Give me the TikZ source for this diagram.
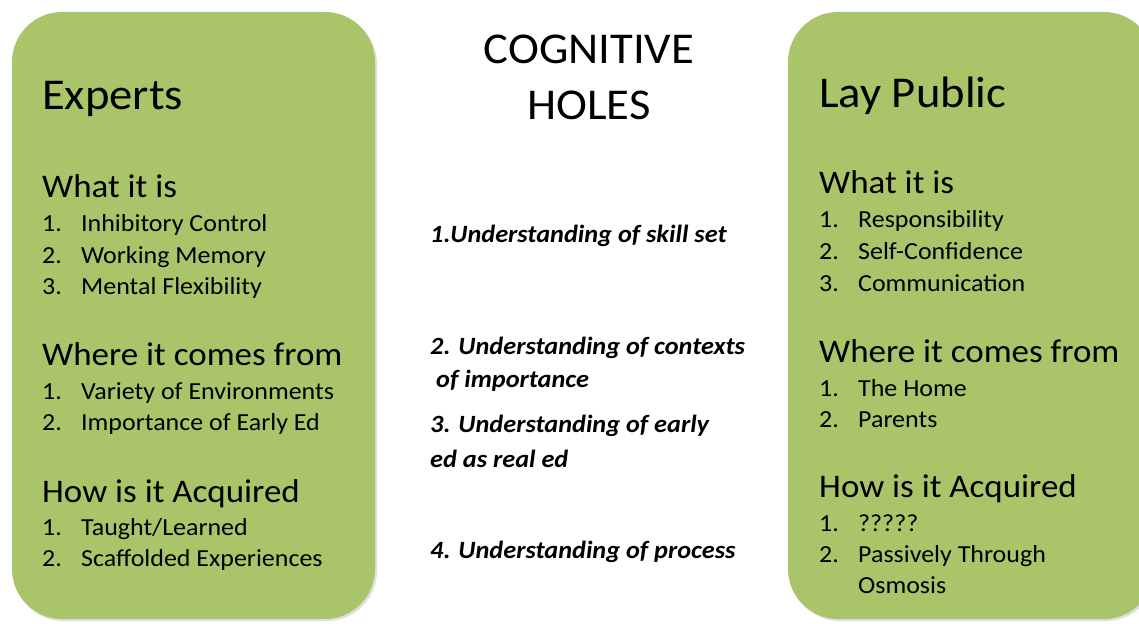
\documentclass[tikz,border=0pt]{standalone}
\usepackage{fontspec}
\setmainfont{Carlito}[FakeStretch=1.06]
\usetikzlibrary{positioning}
\definecolor{PanelGreen}{RGB}{170,196,105}
\definecolor{PanelShadow}{RGB}{150,150,150}

% number and text of one list entry
\newcommand{\listentry}[2]{\makebox[39pt][l]{#1}#2}

\begin{document}
\begin{tikzpicture}[x=1pt, y=-1pt,
    panel/.style={fill=PanelGreen, rounded corners=50pt},
    panelshadow/.style={fill=PanelShadow, opacity=0.3, rounded corners=50pt},
    paneltitle/.style={anchor=base west, inner sep=0pt, font=\fontsize{44}{50}\selectfont},
    heading/.style={anchor=base west, inner sep=0pt, font=\fontsize{33}{38}\selectfont},
    entry/.style={anchor=base west, inner sep=0pt, font=\fontsize{24.5}{31}\selectfont},
    hole/.style={anchor=base west, inner sep=0pt, align=left, font=\fontsize{24.8}{33}\selectfont\bfseries\itshape}]
    \useasboundingbox (0,0) rectangle (1139,623);

    % Panels
    \fill[panelshadow] (13.5,14) rectangle (377,621);
    \fill[panel] (12,12) rectangle (375,619);
    \fill[panelshadow] (790,14) rectangle (1156,621);
    \fill[panel] (788,12) rectangle (1154,619);

    % Experts
    \node[paneltitle] (experts) at (42,110) {Experts};
    \node[heading] (whatL) at (42,197) {What it is};
    \node[entry] (whatL1) at (42,231) {\listentry{1.}{Inhibitory Control}};
    \node[entry] (whatL2) at (42,263) {\listentry{2.}{Working Memory}};
    \node[entry] (whatL3) at (42,294) {\listentry{3.}{Mental Flexibility}};
    \node[heading] (whereL) at (42,365) {Where it comes from};
    \node[entry] (whereL1) at (42,399) {\listentry{1.}{Variety of Environments}};
    \node[entry] (whereL2) at (42,430) {\listentry{2.}{Importance of Early Ed}};
    \node[heading] (howL) at (42,502) {How is it Acquired};
    \node[entry] (howL1) at (42,535) {\listentry{1.}{Taught/Learned}};
    \node[entry] (howL2) at (42,566) {\listentry{2.}{Scaffolded Experiences}};

    % Lay public
    \node[paneltitle] (public) at (819,107) {Lay Public};
    \node[heading] (whatR) at (819,193) {What it is};
    \node[entry] (whatR1) at (819,227) {\listentry{1.}{Responsibility}};
    \node[entry] (whatR2) at (819,259) {\listentry{2.}{Self-Confidence}};
    \node[entry] (whatR3) at (819,291) {\listentry{3.}{Communication}};
    \node[heading] (whereR) at (819,362) {Where it comes from};
    \node[entry] (whereR1) at (819,396) {\listentry{1.}{The Home}};
    \node[entry] (whereR2) at (819,427) {\listentry{2.}{Parents}};
    \node[heading] (howR) at (819,497) {How is it Acquired};
    \node[entry] (howR1) at (819,531) {\listentry{1.}{?????}};
    % base of a two-line node is its last line
    \node[entry, align=left] (howR2) at (819,593) {\listentry{2.}{Passively Through}\\\hspace*{39pt}Osmosis};

    % Cognitive holes
    \node[anchor=base, inner sep=0pt, align=center, font=\fontsize{44}{56}\selectfont] (holes) at (589,120) {COGNITIVE\\HOLES};
    \node[hole] (hole1) at (430,242) {1.Understanding of skill set};
    \node[hole] (hole2) at (430,387) {2. Understanding of contexts\\\hspace*{6pt}of importance};
    \node[hole] (hole3) at (430,467) {3. Understanding of early\\[2pt]ed as real ed};
    \node[hole] (hole4) at (430,558) {4. Understanding of process};
\end{tikzpicture}
\end{document}
